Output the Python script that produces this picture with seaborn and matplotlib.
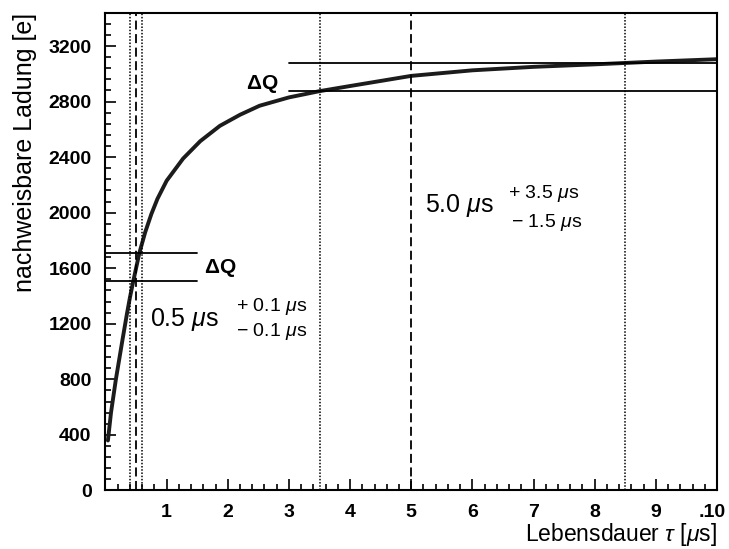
import matplotlib
matplotlib.use("Agg")
import matplotlib.pyplot as plt
import matplotlib.transforms as mtransforms
from matplotlib.ticker import MultipleLocator, FixedLocator, FixedFormatter
import seaborn as sns
import pandas as pd

# Collectable charge as a function of carrier lifetime
tau_us = [0.04, 0.09, 0.17, 0.28, 0.35, 0.40, 0.456, 0.554, 0.65, 0.75, 0.85,
          1.0, 1.27, 1.55, 1.87, 2.2, 2.52, 3.0, 3.5, 4.0, 5.0, 6.0, 7.0,
          8.0, 8.5, 9.0, 10.0]
charge_e = [360, 560, 800, 1090, 1270, 1390, 1510, 1710, 1860, 1990, 2100,
            2230, 2390, 2515, 2625, 2705, 2770, 2830, 2875, 2912, 2985, 3025,
            3050, 3068, 3078, 3088, 3105]

# Lifetime estimates with their errors [µs]
tau_short, err_short_up, err_short_dn = 0.5, 0.1, 0.1
tau_long, err_long_up, err_long_dn = 5.0, 3.5, 1.5

# Charge bands (Delta Q) belonging to each estimate [e]
dq_short = [1510, 1710]
dq_short_span = [0.0, 1.5]
dq_long = [2875, 3075]
dq_long_span = [3.0, 10.0]

x_ticks = [1, 2, 3, 4, 5, 6, 7, 8, 9, 10]
x_ticklabels = ["1", "2", "3", "4", "5", "6", "7", "8", "9", ".10"]
y_ticks = [0, 400, 800, 1200, 1600, 2000, 2400, 2800, 3200]

sns.set_style("ticks")
plt.rcParams["font.family"] = ["Liberation Sans", "DejaVu Sans"]
plt.rcParams["mathtext.fontset"] = "custom"
plt.rcParams["mathtext.rm"] = "Liberation Sans"
plt.rcParams["mathtext.it"] = "Liberation Sans:italic"
plt.rcParams["mathtext.bf"] = "Liberation Sans:bold"
for key in ("text.color", "axes.labelcolor", "xtick.color", "ytick.color",
            "axes.edgecolor"):
    plt.rcParams[key] = "black"

fig = plt.figure(figsize=(7.29, 5.49), dpi=100)
ax = fig.add_axes([0.1447, 0.1066, 0.8388, 0.8703])

df = pd.DataFrame({"tau": tau_us, "Q": charge_e})
sns.lineplot(data=df, x="tau", y="Q", ax=ax, color="#1c1c1c", linewidth=2.8,
             estimator=None, sort=True)

dotted = (0, (1, 1.1))
dashed = (0, (5, 2.5))
for xc, ls in [(tau_short - err_short_dn, dotted), (tau_short, dashed),
               (tau_short + err_short_up, dotted),
               (tau_long - err_long_dn, dotted), (tau_long, dashed),
               (tau_long + err_long_up, dotted)]:
    ax.axvline(xc, color="black", linestyle=ls,
               linewidth=1.1 if ls is dotted else 1.3)

for yc in dq_short:
    ax.plot(dq_short_span, [yc, yc], color="black", linewidth=1.3)
for yc in dq_long:
    ax.plot(dq_long_span, [yc, yc], color="black", linewidth=1.3)

ax.set_xlim(0, 10)
ax.set_ylim(0, 3440)

ax.xaxis.set_major_locator(FixedLocator(x_ticks))
ax.xaxis.set_major_formatter(FixedFormatter(x_ticklabels))
ax.xaxis.set_minor_locator(MultipleLocator(0.2))
ax.yaxis.set_major_locator(FixedLocator(y_ticks))
ax.yaxis.set_minor_locator(MultipleLocator(80))

ax.tick_params(which="both", direction="in", top=False, right=False,
               color="black", labelcolor="black", width=1.2)
ax.tick_params(which="major", length=8, labelsize=14)
ax.tick_params(which="minor", length=4)
ax.tick_params(axis="x", which="major", pad=10)
ax.tick_params(axis="y", which="major", pad=10)
for lab in ax.get_xticklabels() + ax.get_yticklabels():
    lab.set_fontweight("bold")

# keep the last x label inside the frame edge
last = ax.get_xticklabels()[-1]
last.set_transform(last.get_transform() +
                   mtransforms.ScaledTranslation(-5 / 100, 0,
                                                 fig.dpi_scale_trans))

for sp in ax.spines.values():
    sp.set_visible(True)
    sp.set_color("black")
    sp.set_linewidth(1.5)

ax.set_xlabel(r"Lebensdauer $\tau$ [$\mu$s]", fontsize=16.5, loc="right",
              labelpad=0)
ax.set_ylabel("nachweisbare Ladung [e]", fontsize=18, loc="top", labelpad=8)

# Annotations
ax.text(2.30, 2930, r"$\mathbf{\Delta}$Q", fontsize=15, fontweight="bold",
        ha="left", va="center")
ax.text(1.61, 1600, r"$\mathbf{\Delta}$Q", fontsize=15, fontweight="bold",
        ha="left", va="center")

ax.text(0.72, 1230, rf"{tau_short:.1f} $\mu$s", fontsize=18,
        ha="left", va="center")
ax.text(2.13, 1325, rf"+ {err_short_up:.1f} $\mu$s", fontsize=14,
        ha="left", va="center")
ax.text(2.13, 1145, rf"$-$ {err_short_dn:.1f} $\mu$s", fontsize=14,
        ha="left", va="center")

ax.text(5.22, 2052, rf"{tau_long:.1f} $\mu$s", fontsize=18,
        ha="left", va="center")
ax.text(6.59, 2139, rf"+ {err_long_up:.1f} $\mu$s", fontsize=14,
        ha="left", va="center")
ax.text(6.63, 1930, rf"$-$ {err_long_dn:.1f} $\mu$s", fontsize=14,
        ha="left", va="center")

fig.savefig("out.png", dpi=100)
